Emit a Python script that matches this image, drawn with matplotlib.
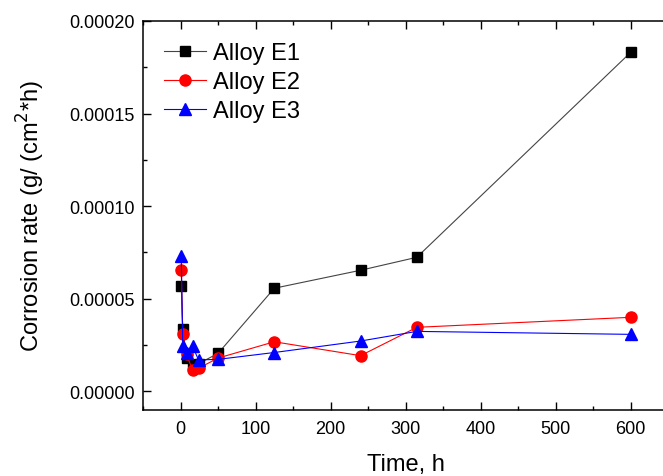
import matplotlib
matplotlib.use("Agg")
import matplotlib.pyplot as plt
from matplotlib.ticker import MultipleLocator, FormatStrFormatter

plt.rcParams['font.family'] = ['Liberation Sans', 'DejaVu Sans']

# exposure time, h
hours = [1, 3, 8, 16, 24, 50, 125, 240, 315, 600]
# corrosion rate, g/(cm2*h)
alloy_e1 = [5.68e-5, 3.35e-5, 1.80e-5, 1.40e-5, 1.50e-5, 2.05e-5, 5.57e-5, 6.54e-5, 7.24e-5, 1.83e-4]
alloy_e2 = [6.55e-5, 3.10e-5, 2.00e-5, 1.15e-5, 1.25e-5, 1.80e-5, 2.68e-5, 1.93e-5, 3.46e-5, 4.00e-5]
alloy_e3 = [7.30e-5, 2.45e-5, 2.10e-5, 2.45e-5, 1.70e-5, 1.73e-5, 2.10e-5, 2.72e-5, 3.24e-5, 3.08e-5]

fig = plt.figure(figsize=(6.63, 4.77), dpi=100)
ax = fig.add_axes([0.2157, 0.1385, 0.792, 0.8155])

ax.plot(hours, alloy_e1, color='#444444', lw=0.8, marker='s', ms=7,
        mfc='black', mec='black', label='Alloy E1')
ax.plot(hours, alloy_e2, color='red', lw=0.8, marker='o', ms=8,
        mfc='red', mec='red', label='Alloy E2')
ax.plot(hours, alloy_e3, color='blue', lw=0.8, marker='^', ms=8,
        mfc='blue', mec='blue', label='Alloy E3')

ax.set_xlim(-50, 650)
ax.set_ylim(-0.00001, 0.0002)
ax.xaxis.set_major_locator(MultipleLocator(100))
ax.xaxis.set_minor_locator(MultipleLocator(50))
ax.yaxis.set_major_locator(MultipleLocator(0.00005))
ax.yaxis.set_minor_locator(MultipleLocator(0.000025))
ax.yaxis.set_major_formatter(FormatStrFormatter('%.5f'))

ax.tick_params(which='both', direction='in', top=True, right=False, labelsize=13)
ax.tick_params(which='major', length=5.5, width=1)
ax.tick_params(which='minor', length=3, width=1)
ax.tick_params(axis='x', pad=7)
ax.tick_params(axis='y', pad=6)
for s in ax.spines.values():
    s.set_linewidth(1.1)

ax.set_xlabel('Time, h', fontsize=17, labelpad=12)
ax.set_ylabel('Corrosion rate (g/ (cm$^2$*h)', fontsize=17, labelpad=16)

ax.legend(loc='upper left', frameon=False, fontsize=17, handlelength=1.75,
          handletextpad=0.3, labelspacing=0.3, borderaxespad=0.5)

fig.savefig('out.png', dpi=100)
